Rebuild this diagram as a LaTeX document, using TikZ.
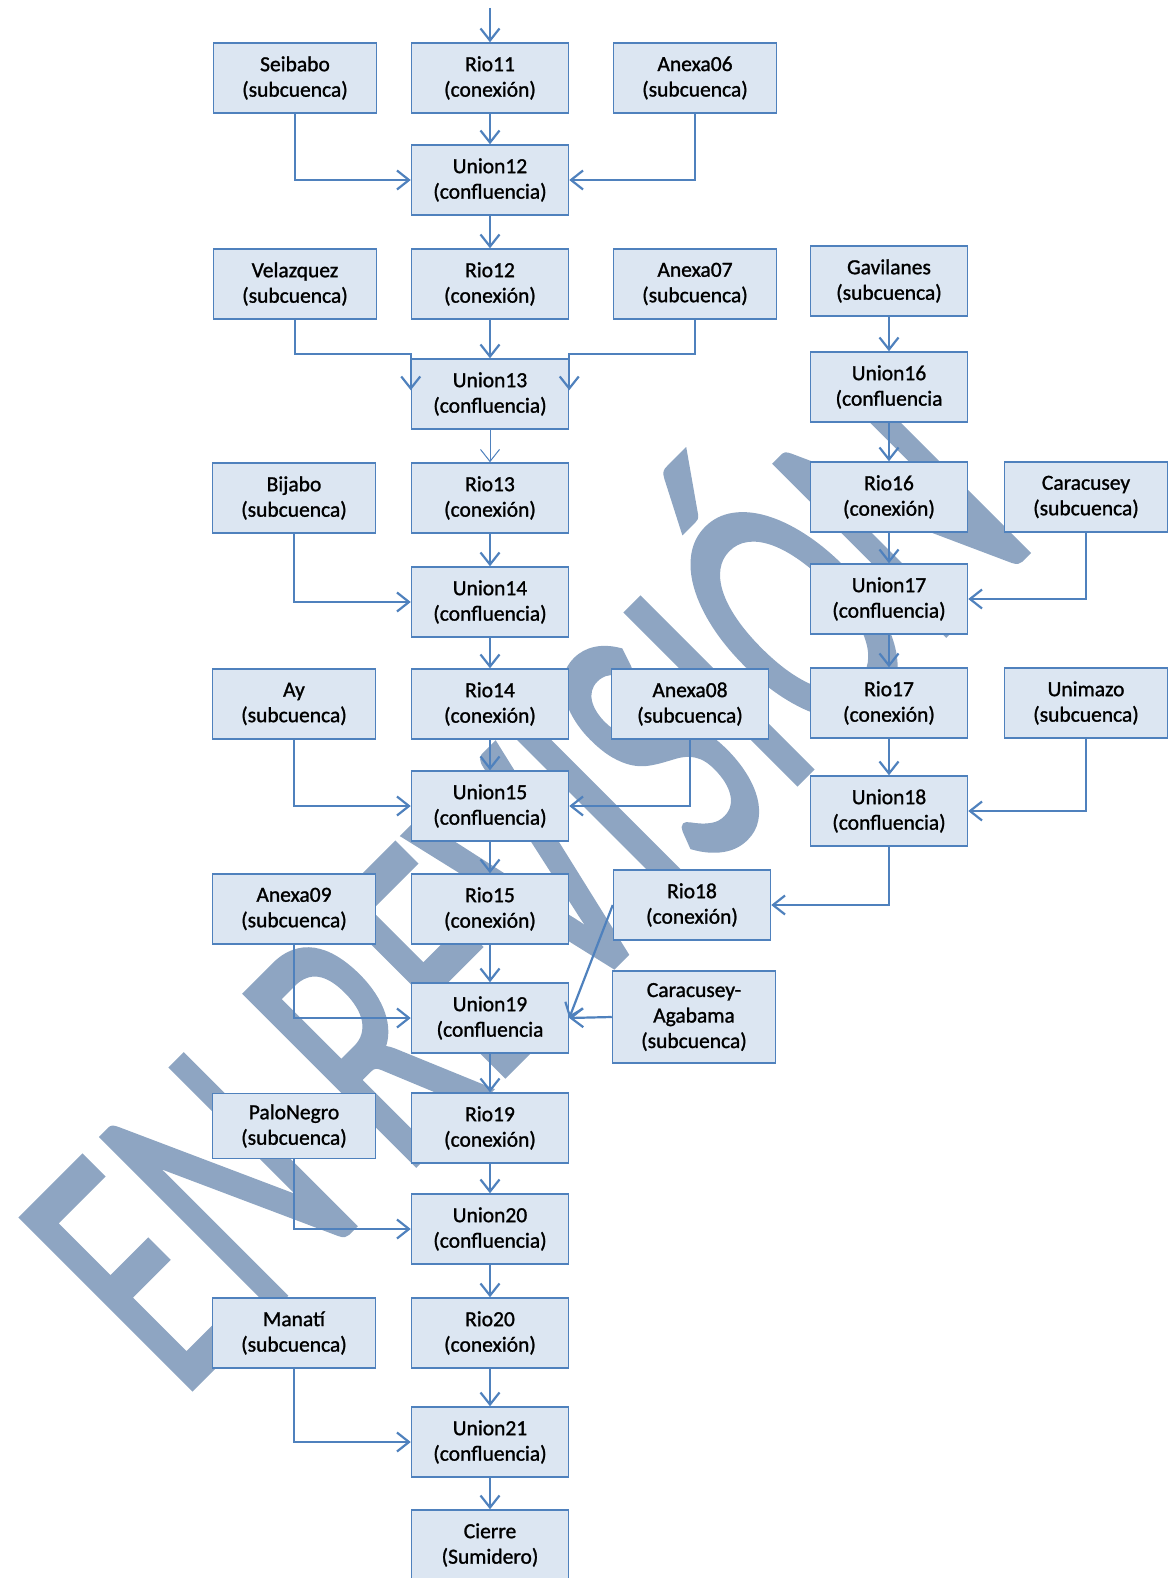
\documentclass[tikz,border=0pt]{standalone}
\usepackage{fontspec}
\setmainfont{Carlito}[RawFeature = {embolden=1.2}]
\newfontfamily\marcafont{Carlito}[RawFeature = {embolden=1.5}]
\usepackage{xcolor}
\usetikzlibrary{arrows.meta}

\definecolor{linea}{RGB}{79,129,189}
\definecolor{relleno}{RGB}{220,230,242}
\definecolor{marca}{RGB}{142,165,194}

\tikzset{
    caja/.style = {draw = linea, fill = relleno, line width = 1.5pt, align = center,
        inner sep = 0pt, minimum width = 157pt, minimum height = 70pt,
        font = \fontsize{21.5}{25.5}\selectfont},
    ancha/.style = {caja, minimum width = 163pt},
    flecha/.style = {draw = linea, line width = 2.2pt,
        -{Straight Barb[length = 12pt, width = 19pt]}}
}

\begin{document}
\begin{tikzpicture}[x = 1pt, y = -1pt]
            \useasboundingbox (0, 0) rectangle (1171, 1578);

            % marca de agua
            \node[text = marca, inner sep = 0pt, anchor = base west, rotate = 45, xscale = 0.62,
                font = \marcafont\fontsize{375}{390}\selectfont] (marca) at (180, 1400) {EN REVISIÓN};

            \coordinate (entrada) at (490, 8);
            \node[ancha] (seibabo) at (295, 78) {Seibabo\\(subcuenca)};
            \node[caja] (rio11) at (490, 78) {Rio11\\(conexión)};
            \node[ancha] (anexa06) at (695, 78) {Anexa06\\(subcuenca)};
            \node[caja] (union12) at (490, 180) {Union12\\(confluencia)};
            \node[ancha] (velazquez) at (295, 284) {Velazquez\\(subcuenca)};
            \node[caja] (rio12) at (490, 284) {Rio12\\(conexión)};
            \node[ancha] (anexa07) at (695, 284) {Anexa07\\(subcuenca)};
            \node[caja] (union13) at (490, 394) {Union13\\(confluencia)};
            \node[ancha] (bijabo) at (294, 498) {Bijabo\\(subcuenca)};
            \node[caja] (rio13) at (490, 498) {Rio13\\(conexión)};
            \node[caja] (union14) at (490, 602) {Union14\\(confluencia)};
            \node[ancha] (ay) at (294, 704) {Ay\\(subcuenca)};
            \node[caja] (rio14) at (490, 704) {Rio14\\(conexión)};
            \node[caja] (anexa08) at (690, 704) {Anexa08\\(subcuenca)};
            \node[caja] (union15) at (490, 806) {Union15\\(confluencia)};
            \node[ancha] (anexa09) at (294, 909) {Anexa09\\(subcuenca)};
            \node[caja] (rio15) at (490, 909) {Rio15\\(conexión)};
            \node[caja] (rio18) at (692, 905) {Rio18\\(conexión)};
            \node[caja] (union19) at (490, 1018) {Union19\\(confluencia};
            \node[ancha, minimum height = 92pt] (caragab) at (694, 1017)
                {Caracusey-\\Agabama\\(subcuenca)};
            \node[ancha, minimum height = 65pt] (palonegro) at (294, 1126) {PaloNegro\\(subcuenca)};
            \node[caja] (rio19) at (490, 1128) {Rio19\\(conexión)};
            \node[caja] (union20) at (490, 1229) {Union20\\(confluencia)};
            \node[ancha] (manati) at (294, 1333) {Manatí\\(subcuenca)};
            \node[caja] (rio20) at (490, 1333) {Rio20\\(conexión)};
            \node[caja] (union21) at (490, 1442) {Union21\\(confluencia)};
            \node[caja] (cierre) at (490, 1545) {Cierre\\(Sumidero)};

            % rama de la derecha
            \node[caja] (gavilanes) at (889, 281) {Gavilanes\\(subcuenca)};
            \node[caja] (union16) at (889, 387) {Union16\\(confluencia};
            \node[caja] (rio16) at (889, 497) {Rio16\\(conexión)};
            \node[ancha] (caracusey) at (1086, 497) {Caracusey\\(subcuenca)};
            \node[caja] (union17) at (889, 599) {Union17\\(confluencia)};
            \node[caja] (rio17) at (889, 703) {Rio17\\(conexión)};
            \node[ancha] (unimazo) at (1086, 703) {Unimazo\\(subcuenca)};
            \node[caja] (union18) at (889, 811) {Union18\\(confluencia)};

            \draw[flecha] (entrada) -- (rio11);
            \draw[flecha] (rio11) -- (union12);
            \draw[flecha] (seibabo.south) |- (union12.west);
            \draw[flecha] (anexa06.south) |- (union12.east);
            \draw[flecha] (union12) -- (rio12);
            \draw[flecha] (rio12) -- (union13);
            \draw[flecha] (velazquez.south) |- ([yshift = 4pt]union13.north west)
                -- ([yshift = -32pt]union13.north west);
            \draw[flecha] (anexa07.south) |- ([yshift = 4pt]union13.north east)
                -- ([yshift = -32pt]union13.north east);
            \draw[flecha, line width = 1pt] (union13) -- (rio13);
            \draw[flecha] (rio13) -- (union14);
            \draw[flecha] (bijabo.south) |- (union14.west);
            \draw[flecha] (union14) -- (rio14);
            \draw[flecha] (rio14) -- (union15);
            \draw[flecha] (ay.south) |- (union15.west);
            \draw[flecha] (anexa08.south) |- (union15.east);
            \draw[flecha] (union15) -- (rio15);
            \draw[flecha] (rio15) -- (union19);
            \draw[flecha] (anexa09.south) |- (union19.west);
            \draw[flecha] (rio18.west) -- (union19.east);
            \draw[flecha] (caragab.west) -- (union19.east);
            \draw[flecha] (union19) -- (rio19);
            \draw[flecha] (rio19) -- (union20);
            \draw[flecha] (palonegro.south) |- (union20.west);
            \draw[flecha] (union20) -- (rio20);
            \draw[flecha] (rio20) -- (union21);
            \draw[flecha] (manati.south) |- (union21.west);
            \draw[flecha] (union21) -- (cierre);

            \draw[flecha] (gavilanes) -- (union16);
            \draw[flecha] (union16) -- (rio16);
            \draw[flecha] (rio16) -- (union17);
            \draw[flecha] (caracusey.south) |- (union17.east);
            \draw[flecha] (union17) -- (rio17);
            \draw[flecha] (rio17) -- (union18);
            \draw[flecha] (unimazo.south) |- (union18.east);
            \draw[flecha] (union18.south) |- (rio18.east);
        \end{tikzpicture}
\end{document}
